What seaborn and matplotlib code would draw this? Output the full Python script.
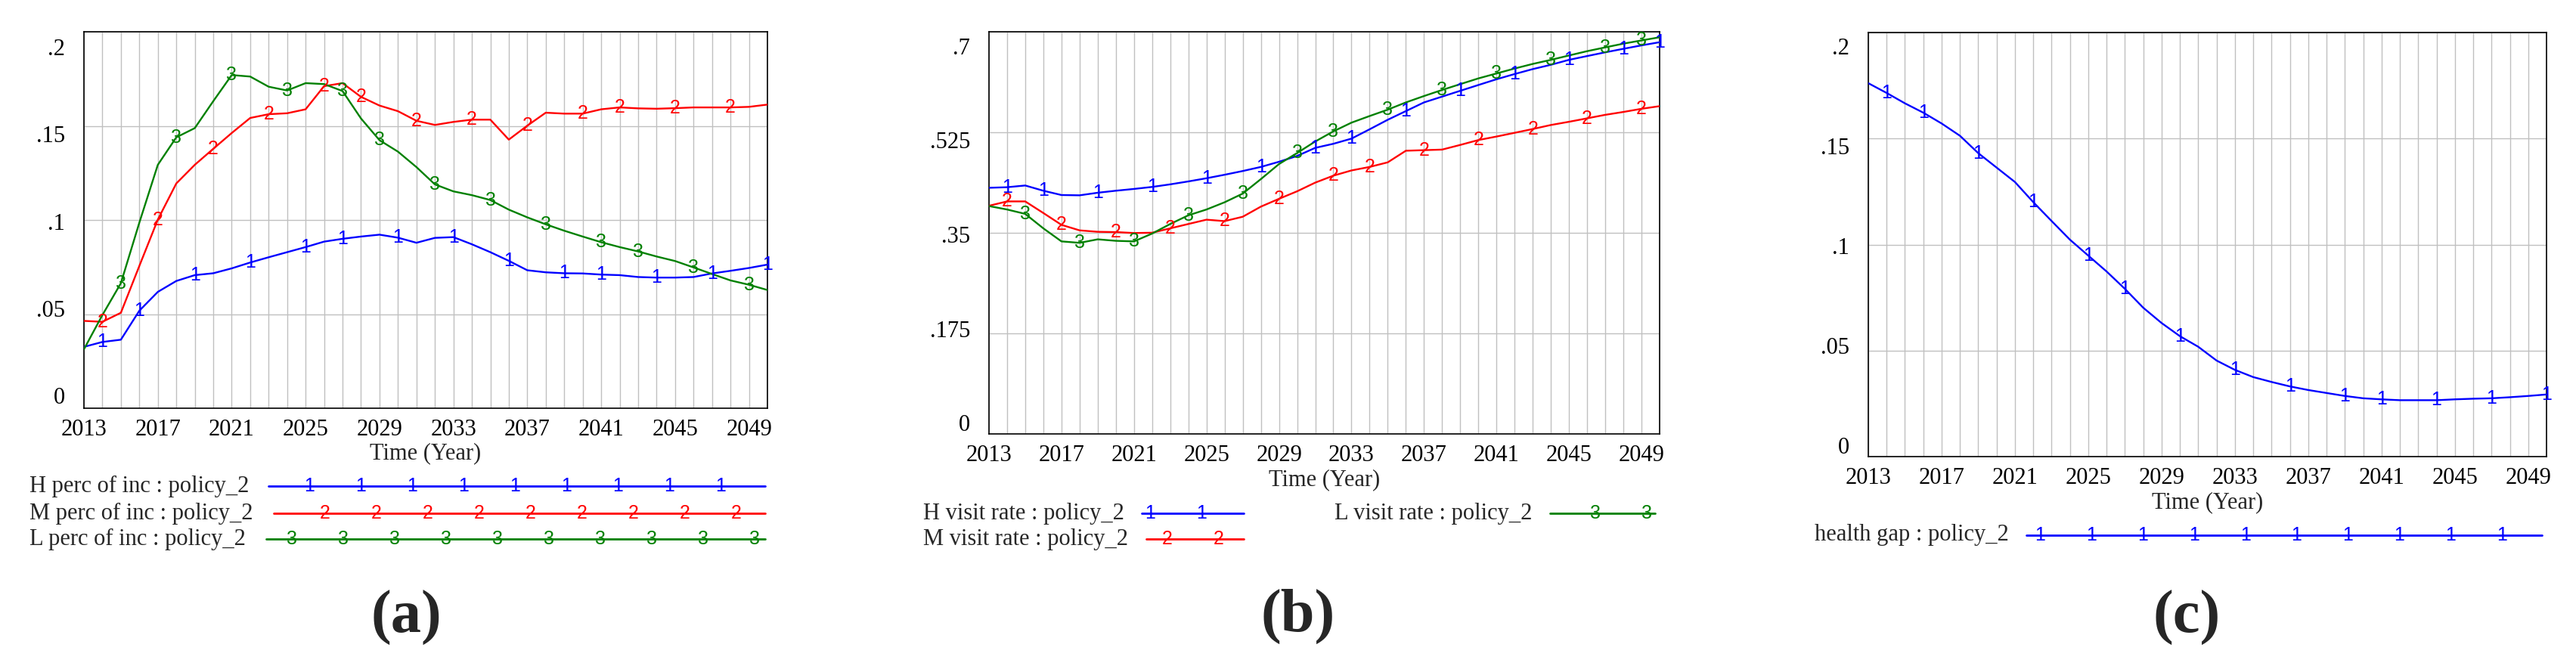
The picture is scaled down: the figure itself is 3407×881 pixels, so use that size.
"""
Three Vensim-style policy_2 panels: income share, visit rate and health gap.
"""

import matplotlib.pyplot as plt
import numpy as np
import pandas as pd
import seaborn as sns
from matplotlib.lines import Line2D
from matplotlib.transforms import ScaledTranslation

W, H = 3407, 881
DPI = 100

YEARS = list(range(2013, 2051))
X_TICKS = list(range(2013, 2050, 4))

# (a) perc of inc
H_PERC = [0.0326, 0.0352, 0.0364, 0.0518, 0.0618, 0.0676, 0.0707, 0.0717, 0.0743, 0.0774,
          0.0802, 0.0829, 0.0856, 0.0885, 0.0900, 0.0912, 0.0922, 0.0906, 0.0879, 0.0905,
          0.0909, 0.0871, 0.0829, 0.0783, 0.0733, 0.0722, 0.0717, 0.0716, 0.0710, 0.0707,
          0.0697, 0.0694, 0.0694, 0.0697, 0.0716, 0.0730, 0.0745, 0.0763]
M_PERC = [0.0464, 0.0459, 0.0507, 0.0756, 0.1002, 0.1194, 0.1293, 0.1378, 0.1462, 0.1542,
          0.1562, 0.1567, 0.1588, 0.1711, 0.1727, 0.1654, 0.1608, 0.1578, 0.1527, 0.1505,
          0.1521, 0.1533, 0.1533, 0.1427, 0.1501, 0.1570, 0.1565, 0.1565, 0.1588, 0.1598,
          0.1593, 0.1591, 0.1594, 0.1598, 0.1598, 0.1598, 0.1601, 0.1613]
L_PERC = [0.0313, 0.0495, 0.0664, 0.0986, 0.1293, 0.1439, 0.1488, 0.1631, 0.1770, 0.1762,
          0.1708, 0.1688, 0.1727, 0.1722, 0.1685, 0.1539, 0.1424, 0.1363, 0.1281, 0.1189,
          0.1152, 0.1132, 0.1106, 0.1055, 0.1014, 0.0977, 0.0943, 0.0912, 0.0882, 0.0856,
          0.0833, 0.0806, 0.0782, 0.0748, 0.0713, 0.0679, 0.0656, 0.0628]

# (b) visit rate
H_VISIT = [0.4284, 0.4294, 0.4324, 0.4233, 0.4158, 0.4153, 0.4198, 0.4233, 0.4264, 0.4299,
           0.4344, 0.4395, 0.4450, 0.4511, 0.4576, 0.4647, 0.4737, 0.4838, 0.4979, 0.5050,
           0.5140, 0.5302, 0.5468, 0.5619, 0.5770, 0.5871, 0.5972, 0.6073, 0.6173, 0.6264,
           0.6350, 0.6425, 0.6511, 0.6577, 0.6642, 0.6703, 0.6763, 0.6818]
M_VISIT = [0.3971, 0.4047, 0.4047, 0.3845, 0.3639, 0.3543, 0.3518, 0.3513, 0.3497, 0.3502,
           0.3578, 0.3654, 0.3729, 0.3704, 0.3780, 0.3956, 0.4092, 0.4223, 0.4374, 0.4495,
           0.4586, 0.4647, 0.4727, 0.4929, 0.4939, 0.4949, 0.5030, 0.5115, 0.5176, 0.5241,
           0.5307, 0.5377, 0.5433, 0.5493, 0.5554, 0.5604, 0.5659, 0.5705]
L_VISIT = [0.3966, 0.3906, 0.3830, 0.3578, 0.3351, 0.3326, 0.3387, 0.3361, 0.3351, 0.3487,
           0.3654, 0.3805, 0.3906, 0.4032, 0.4183, 0.4435, 0.4697, 0.4889, 0.5090, 0.5266,
           0.5418, 0.5533, 0.5644, 0.5770, 0.5881, 0.5987, 0.6088, 0.6188, 0.6274, 0.6360,
           0.6440, 0.6511, 0.6587, 0.6662, 0.6728, 0.6793, 0.6849, 0.6904]

# (c) health gap
HEALTH_GAP = [0.1761, 0.1715, 0.1666, 0.1622, 0.1571, 0.1513, 0.1431, 0.1363, 0.1295, 0.1200,
              0.1111, 0.1023, 0.0948, 0.0873, 0.0791, 0.0702, 0.0630, 0.0568, 0.0518, 0.0453,
              0.0409, 0.0375, 0.0352, 0.0331, 0.0314, 0.0300, 0.0286, 0.0275, 0.0270, 0.0266,
              0.0266, 0.0266, 0.0270, 0.0273, 0.0275, 0.0280, 0.0286, 0.0293]

# years where the Vensim number markers sit on each line
H_PERC_MARKS = [2014, 2016, 2019, 2022, 2025, 2027, 2030, 2033, 2036, 2039, 2041, 2044, 2047, 2050]
M_PERC_MARKS = [2014, 2017, 2020, 2023, 2026, 2028, 2031, 2034, 2037, 2040, 2042, 2045, 2048]
L_PERC_MARKS = [2015, 2018, 2021, 2024, 2027, 2029, 2032, 2035, 2038, 2041, 2043, 2046, 2049]
H_VISIT_MARKS = [2014, 2016, 2019, 2022, 2025, 2028, 2031, 2033, 2036, 2039, 2042, 2045, 2048, 2050]
M_VISIT_MARKS = [2014, 2017, 2020, 2023, 2026, 2029, 2032, 2034, 2037, 2040, 2043, 2046, 2049]
L_VISIT_MARKS = [2015, 2018, 2021, 2024, 2027, 2030, 2032, 2035, 2038, 2041, 2044, 2047, 2049]
GAP_MARKS = [2014, 2016, 2019, 2022, 2025, 2027, 2030, 2033, 2036, 2039, 2041, 2044, 2047, 2050]

Y_TICKS_A = [0, 0.05, 0.1, 0.15, 0.2]
Y_LABELS_A = ["0", ".05", ".1", ".15", ".2"]
Y_TICKS_B = [0, 0.175, 0.35, 0.525, 0.7]
Y_LABELS_B = ["0", ".175", ".35", ".525", ".7"]

BLUE, RED, GREEN = "#0000ff", "#ff0000", "#008000"
GRID = "#c0c0c0"
TICK_TXT = 22
TXT = 22
MARK_SIZE = 18
MARK_FONT = ["Liberation Sans", "DejaVu Sans"]

sns.set_theme(style="white")
plt.rcParams["font.family"] = ["Liberation Serif", "DejaVu Serif"]


def fx(px):
    return px / W


def fy(py):
    return 1 - py / H


def draw_panel(fig, box, series, yticks, ylabels, label_dy, xlabel_y):
    left, top, right, bottom = box
    ax = fig.add_axes([fx(left), fy(bottom), (right - left) / W, (bottom - top) / H])

    frames = []
    for name, values, color, marks, digit in series:
        frames.append(pd.DataFrame({"year": YEARS, "value": values, "series": name}))
    df = pd.concat(frames, ignore_index=True)
    palette = {s[0]: s[2] for s in series}
    sns.lineplot(data=df, x="year", y="value", hue="series", palette=palette,
                 legend=False, linewidth=1.7, ax=ax, zorder=3)

    for name, values, color, marks, digit in series:
        for yr in marks:
            ax.text(yr, np.interp(yr, YEARS, values), digit, color=color, fontsize=MARK_SIZE,
                    family=MARK_FONT, ha="center", va="center", zorder=4, clip_on=False)

    ax.set_xlim(YEARS[0], YEARS[-1])
    ax.set_ylim(yticks[0], yticks[-1])
    ax.set_xticks(X_TICKS)
    ax.set_xticks(YEARS, minor=True)
    ax.set_yticks(yticks, ylabels)
    ax.set_xlabel("")
    ax.set_ylabel("")
    ax.set_axisbelow(True)
    ax.grid(which="both", axis="x", color=GRID, linewidth=1.0)
    ax.grid(which="major", axis="y", color=GRID, linewidth=1.0)
    ax.tick_params(axis="both", which="both", length=0, labelsize=TICK_TXT, colors="black")
    ax.tick_params(axis="x", pad=10)
    ax.tick_params(axis="y", pad=18)
    for spine in ax.spines.values():
        spine.set_color("black")
        spine.set_linewidth(1.2)

    # Vensim spreads the value labels a little inside the top and bottom edges
    n = len(ylabels)
    for i, lab in enumerate(ax.get_yticklabels()):
        dy = label_dy[0] + (label_dy[1] - label_dy[0]) * i / (n - 1)
        lab.set_transform(lab.get_transform() + ScaledTranslation(0, dy / DPI, fig.dpi_scale_trans))

    fig.text(fx((left + right) / 2), fy(xlabel_y), "Time (Year)", fontsize=TXT,
             ha="center", va="center")
    return ax


def legend_entry(fig, text_x, y, label, color, line_x, digit, mark_x0, step, count):
    fig.text(fx(text_x), fy(y), label, fontsize=TXT, ha="left", va="center")
    fig.add_artist(Line2D([fx(line_x[0]), fx(line_x[1])], [fy(y), fy(y)],
                          color=color, linewidth=2.0, transform=fig.transFigure))
    for k in range(count):
        fig.text(fx(mark_x0 + k * step), fy(y), digit, color=color, fontsize=MARK_SIZE,
                 family=MARK_FONT, ha="center", va="center")


def main():
    fig = plt.figure(figsize=(W / DPI, H / DPI), dpi=DPI)
    fig.patch.set_facecolor("white")

    draw_panel(fig, (111, 42, 1015, 540),
               [("H", H_PERC, BLUE, H_PERC_MARKS, "1"),
                ("M", M_PERC, RED, M_PERC_MARKS, "2"),
                ("L", L_PERC, GREEN, L_PERC_MARKS, "3")],
               Y_TICKS_A, Y_LABELS_A, (17, -20), 600)
    legend_entry(fig, 39, 643, "H perc of inc : policy_2", BLUE, (355, 1012), "1", 409, 68.0, 9)
    legend_entry(fig, 39, 679, "M perc of inc : policy_2", RED, (362, 1012), "2", 430, 68.0, 9)
    legend_entry(fig, 39, 713, "L perc of inc : policy_2", GREEN, (352, 1012), "3", 386, 68.0, 10)
    fig.text(fx(537), fy(817), "(a)", fontsize=58, fontweight="bold", ha="center", va="center")

    draw_panel(fig, (1308, 42, 2195, 574),
               [("H", H_VISIT, BLUE, H_VISIT_MARKS, "1"),
                ("M", M_VISIT, RED, M_VISIT_MARKS, "2"),
                ("L", L_VISIT, GREEN, L_VISIT_MARKS, "3")],
               Y_TICKS_B, Y_LABELS_B, (15, -19), 635)
    legend_entry(fig, 1221, 679, "H visit rate : policy_2", BLUE, (1510, 1645), "1", 1521, 68.5, 2)
    legend_entry(fig, 1221, 713, "M visit rate : policy_2", RED, (1516, 1645), "2", 1544, 68.0, 2)
    legend_entry(fig, 1765, 679, "L visit rate : policy_2", GREEN, (2050, 2189), "3", 2110, 68.0, 2)
    fig.text(fx(1717), fy(815), "(b)", fontsize=58, fontweight="bold", ha="center", va="center")

    draw_panel(fig, (2471, 43, 3368, 604),
               [("gap", HEALTH_GAP, BLUE, GAP_MARKS, "1")],
               Y_TICKS_A, Y_LABELS_A, (15, -18), 665)
    legend_entry(fig, 2400, 708, "health gap : policy_2", BLUE, (2680, 3362), "1", 2698, 67.9, 10)
    fig.text(fx(2892), fy(817), "(c)", fontsize=58, fontweight="bold", ha="center", va="center")

    fig.savefig("out.png", dpi=DPI, facecolor="white")
    plt.close(fig)


if __name__ == "__main__":
    main()
